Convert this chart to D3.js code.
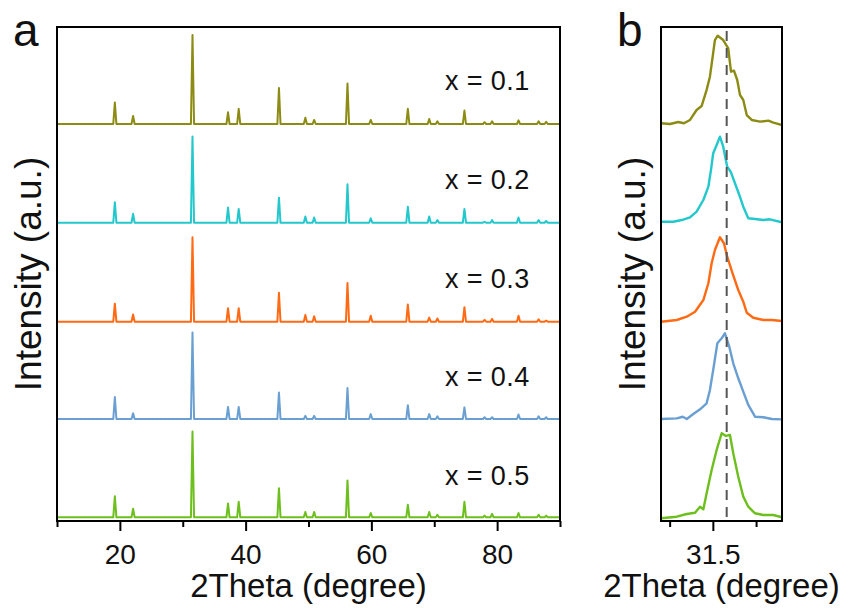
<!DOCTYPE html>
<html>
<head>
<meta charset="utf-8">
<script src="https://cdn.jsdelivr.net/npm/d3@7"></script>
<style>
  html, body { margin: 0; padding: 0; background: #fff; }
  svg { display: block; font-family: "Liberation Sans", Arial, sans-serif; }
</style>
</head>
<body>
<svg id="chart" width="850" height="608"></svg>
<script>
// Sample labels and trace colours (top to bottom)
const compositions = ["x = 0.1", "x = 0.2", "x = 0.3", "x = 0.4", "x = 0.5"];
const traceColors = ["#8c8c14", "#22c8cc", "#ff6a14", "#6a9fd2", "#6cbf1c"];

// Reflection positions, 2Theta (degree)
const peakPositions = [19.2, 22.1, 31.55, 37.2, 38.9, 45.3, 49.5, 50.9, 56.2, 59.9,
                       65.8, 69.2, 70.5, 74.8, 78.0, 79.2, 83.4, 86.6, 87.8];

// Background level and normalised peak intensities of each pattern
const backgroundLevels = [0.020, 0.021, 0.019, 0.036, 0.041];
const peaksX01 = [0.26, 0.11, 1.01, 0.15, 0.19, 0.42, 0.09, 0.065, 0.47, 0.065, 0.19, 0.075, 0.05, 0.17, 0.04, 0.05, 0.06, 0.05, 0.045];
const peaksX02 = [0.25, 0.12, 0.98, 0.19, 0.175, 0.30, 0.09, 0.08, 0.45, 0.07, 0.20, 0.09, 0.05, 0.175, 0.03, 0.05, 0.08, 0.05, 0.04];
const peaksX03 = [0.22, 0.10, 0.96, 0.17, 0.17, 0.34, 0.095, 0.08, 0.45, 0.085, 0.21, 0.065, 0.055, 0.18, 0.04, 0.05, 0.085, 0.045, 0.03];
const peaksX04 = [0.28, 0.10, 1.00, 0.17, 0.17, 0.33, 0.07, 0.07, 0.38, 0.09, 0.19, 0.09, 0.065, 0.165, 0.055, 0.055, 0.085, 0.065, 0.055];
const peaksX05 = [0.275, 0.137, 0.997, 0.194, 0.213, 0.366, 0.10, 0.10, 0.452, 0.089, 0.18, 0.10, 0.07, 0.213, 0.06, 0.08, 0.089, 0.07, 0.06];
const peakSets = [peaksX01, peaksX02, peaksX03, peaksX04, peaksX05];

// Magnified reflection near 31.5 degree: [2Theta, intensity]
const zoomX01 = [[31.20,0.028],[31.252,0.02],[31.30,0.042],[31.333,0.028],[31.368,0.065],[31.406,0.176],[31.435,0.22],[31.464,0.40],[31.483,0.547],[31.499,0.77],[31.512,0.955],[31.528,1.003],[31.56,0.955],[31.589,0.863],[31.605,0.602],[31.622,0.614],[31.641,0.51],[31.657,0.343],[31.676,0.287],[31.696,0.12],[31.725,0.065],[31.773,0.046],[31.821,0.057],[31.85,0.035],[31.90,0.009]];
const zoomX02 = [[31.20,0.032],[31.271,0.032],[31.32,0.051],[31.368,0.081],[31.406,0.144],[31.445,0.274],[31.474,0.422],[31.489,0.608],[31.502,0.794],[31.522,0.886],[31.541,0.979],[31.56,0.867],[31.583,0.645],[31.603,0.589],[31.628,0.46],[31.653,0.33],[31.676,0.199],[31.705,0.07],[31.744,0.062],[31.792,0.051],[31.83,0.059],[31.90,0.026]];
const zoomX03 = [[31.20,0.019],[31.291,0.038],[31.349,0.075],[31.397,0.13],[31.445,0.26],[31.474,0.447],[31.493,0.669],[31.512,0.817],[31.541,0.959],[31.564,0.892],[31.583,0.743],[31.614,0.558],[31.647,0.372],[31.676,0.242],[31.696,0.119],[31.734,0.063],[31.792,0.038],[31.841,0.038],[31.90,0.027]];
const zoomX04 = [[31.20,0.036],[31.291,0.043],[31.326,0.061],[31.349,0.036],[31.387,0.091],[31.426,0.144],[31.464,0.21],[31.483,0.359],[31.502,0.581],[31.526,0.879],[31.551,0.934],[31.57,0.99],[31.595,0.841],[31.618,0.656],[31.647,0.489],[31.676,0.34],[31.705,0.192],[31.744,0.061],[31.792,0.055],[31.841,0.036],[31.90,0.032]];
const zoomX05 = [[31.20,0.03],[31.291,0.048],[31.349,0.078],[31.397,0.092],[31.426,0.159],[31.445,0.13],[31.464,0.308],[31.493,0.568],[31.522,0.791],[31.551,0.977],[31.576,0.947],[31.599,0.958],[31.618,0.754],[31.647,0.493],[31.676,0.271],[31.705,0.159],[31.744,0.086],[31.792,0.067],[31.85,0.067],[31.90,0.041]];
const zoomSets = [zoomX01, zoomX02, zoomX03, zoomX04, zoomX05];
const referencePosition = 31.58;

// Axis ticks
const wideMajorTicks = [20, 40, 60, 80];
const wideMinorTicks = [10, 30, 50, 70, 90];
const zoomMajorTicks = [31.5];
const zoomMinorTicks = [31.25, 31.75];

const svg = d3.select("#chart");
const plotTop = 27, plotBottom = 521;
const panelA = { left: 57, right: 560 };
const panelB = { left: 661, right: 782 };

const band = d3.scaleBand().domain(compositions).range([plotTop, plotBottom]).padding(0);
const yFor = c => d3.scaleLinear().domain([0, 1.1]).range([band(c) + band.bandwidth(), band(c)]);

const xA = d3.scaleLinear().domain([10, 90]).range([panelA.left, panelA.right]);
const xB = d3.scaleLinear().domain([31.2, 31.9]).range([panelB.left, panelB.right]);

// Build each pattern as a flat background with sharp reflections
function patternPoints(i) {
  const b = backgroundLevels[i];
  const pts = [[10, b]];
  peakPositions.forEach((p, k) => {
    pts.push([p - 0.25, b], [p, peakSets[i][k]], [p + 0.25, b]);
  });
  pts.push([90, b]);
  return pts;
}

svg.append("defs").append("clipPath").attr("id", "clipB")
  .append("rect").attr("x", panelB.left).attr("y", plotTop)
  .attr("width", panelB.right - panelB.left).attr("height", plotBottom - plotTop);

// Panel a traces
const gA = svg.append("g");
compositions.forEach((c, i) => {
  const y = yFor(c);
  const line = d3.line().x(d => xA(d[0])).y(d => y(d[1]));
  gA.append("path").datum(patternPoints(i))
    .attr("d", line).attr("fill", "none")
    .attr("stroke", traceColors[i]).attr("stroke-width", 2)
    .attr("stroke-linejoin", "round");
  gA.append("text").attr("x", 445).attr("y", band(c) + 63)
    .attr("font-size", 27).attr("letter-spacing", 0.4).attr("fill", "#111").text(c);
});

// Panel b traces
const gB = svg.append("g").attr("clip-path", "url(#clipB)");
compositions.forEach((c, i) => {
  const y = yFor(c);
  const line = d3.line().x(d => xB(d[0])).y(d => y(d[1]));
  gB.append("path").datum(zoomSets[i])
    .attr("d", line).attr("fill", "none")
    .attr("stroke", traceColors[i]).attr("stroke-width", 2.4)
    .attr("stroke-linejoin", "round");
});
gB.append("line")
  .attr("x1", xB(referencePosition)).attr("x2", xB(referencePosition))
  .attr("y1", plotTop + 4).attr("y2", plotBottom)
  .attr("stroke", "#555").attr("stroke-width", 2).attr("stroke-dasharray", "10,7");

// Frames
[panelA, panelB].forEach(p => {
  svg.append("rect").attr("x", p.left).attr("y", plotTop)
    .attr("width", p.right - p.left).attr("height", plotBottom - plotTop)
    .attr("fill", "none").attr("stroke", "#000").attr("stroke-width", 2);
});

// Bottom axes
function drawAxis(x, majors, minors) {
  const major = svg.append("g").attr("transform", `translate(0,${plotBottom})`)
    .call(d3.axisBottom(x).tickValues(majors).tickSize(10).tickPadding(13)
      .tickFormat(d => d3.format("")(d)));
  major.select(".domain").remove();
  major.selectAll("line").attr("stroke", "#000").attr("stroke-width", 2);
  major.selectAll("text").attr("font-size", 28).attr("fill", "#111")
    .attr("font-family", "\"Liberation Sans\", Arial, sans-serif");
  const minor = svg.append("g").attr("transform", `translate(0,${plotBottom})`)
    .call(d3.axisBottom(x).tickValues(minors).tickSize(6).tickFormat(""));
  minor.select(".domain").remove();
  minor.selectAll("line").attr("stroke", "#000").attr("stroke-width", 2);
}
drawAxis(xA, wideMajorTicks, wideMinorTicks);
drawAxis(xB, zoomMajorTicks, zoomMinorTicks);

// Axis titles
[panelA, panelB].forEach(p => {
  svg.append("text").attr("x", (p.left + p.right) / 2).attr("y", 597)
    .attr("text-anchor", "middle").attr("font-size", 33).attr("fill", "#111")
    .text("2Theta (degree)");
  svg.append("text")
    .attr("transform", `translate(${p.left - 16},${(plotTop + plotBottom) / 2}) rotate(-90)`)
    .attr("text-anchor", "middle").attr("font-size", 37).attr("fill", "#111")
    .text("Intensity (a.u.)");
});

// Panel letters
svg.append("text").attr("x", 13).attr("y", 46).attr("font-size", 46).attr("fill", "#111").text("a");
svg.append("text").attr("x", 617).attr("y", 46).attr("font-size", 46).attr("fill", "#111").text("b");
</script>
</body>
</html>
